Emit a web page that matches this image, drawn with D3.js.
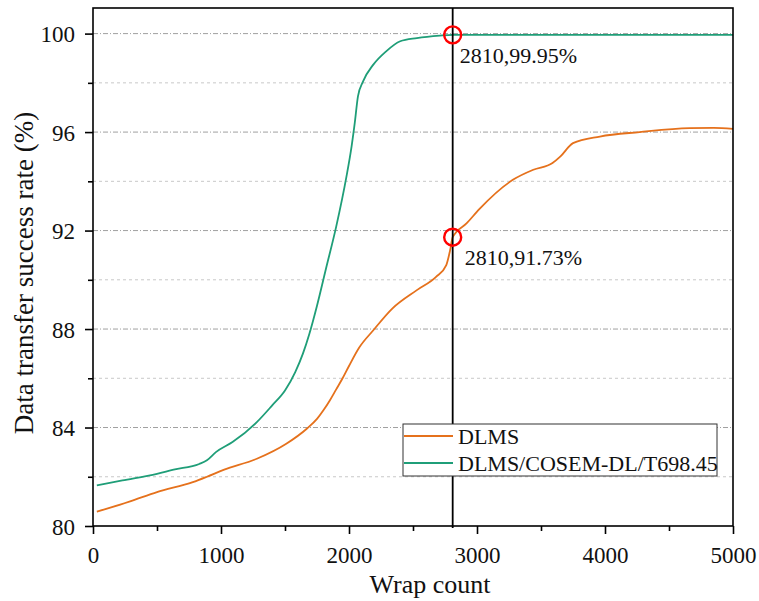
<!DOCTYPE html>
<html>
<head>
    <title>Data transfer success rate</title>
    <meta charset="UTF-8">
    <script src="https://cdn.jsdelivr.net/npm/d3@7/dist/d3.min.js"></script>
    <style>
        body { margin: 0; background: #fff; }
        text { font-family: "Liberation Serif", "Times New Roman", serif; }
    </style>
</head>
<body>
    <script>
        // series (wrap count, success rate %)
        var dlmsX = [30, 290, 500, 780, 890, 1020, 1280, 1510, 1670, 1750, 1800, 1850, 1900, 1950, 2000, 2080, 2190, 2340, 2530, 2680, 2760, 2790, 2810, 2920, 3020, 3280, 3440, 3590, 3650, 3750, 3960, 4270, 4660, 4850, 5000]
        var dlmsY = [80.58, 81.0, 81.38, 81.78, 82.0, 82.28, 82.73, 83.34, 83.95, 84.35, 84.7, 85.1, 85.55, 86.0, 86.5, 87.25, 87.95, 88.84, 89.58, 90.12, 90.6, 91.2, 91.73, 92.3, 92.88, 94.06, 94.47, 94.74, 95.0, 95.55, 95.82, 96.0, 96.16, 96.17, 96.13]

        var coseX = [30, 230, 500, 630, 830, 890, 960, 1090, 1280, 1400, 1500, 1580, 1640, 1690, 1750, 1820, 1900, 1980, 2020, 2045, 2070, 2110, 2190, 2290, 2400, 2530, 2710, 2810, 5000]
        var coseY = [81.65, 81.85, 82.12, 82.29, 82.52, 82.67, 83.0, 83.41, 84.22, 84.9, 85.5, 86.25, 87.0, 87.8, 88.95, 90.45, 92.16, 94.19, 95.41, 96.37, 97.45, 98.06, 98.74, 99.28, 99.69, 99.82, 99.92, 99.95, 99.95]

        var seriesNames = ['DLMS', 'DLMS/COSEM-DL/T698.45']
        var seriesColors = ['#e5711c', '#1f9e78']

        var xTicks = [0, 1000, 2000, 3000, 4000, 5000]
        var xMinor = [500, 1500, 2500, 3500, 4500]
        var yTicks = [80, 84, 88, 92, 96, 100]
        var yMinor = [82, 86, 90, 94, 98]

        var markX = 2810
        var markY = [99.95, 91.73]
        var markLabels = ['2810,99.95%', '2810,91.73%']

        var W = 759, H = 601
        var pLeft = 93, pRight = 733, pTop = 8, pBottom = 526

        var svg = d3.select('body')
            .append('svg')
            .attr('width', W)
            .attr('height', H)

        var x = d3.scaleLinear().domain([0, 5000]).range([pLeft, pRight])
        var y = d3.scaleLinear().domain([80, 101.04]).range([pBottom, pTop])

        // grid lines
        svg.selectAll('.gmaj')
            .data(yTicks.slice(1))
            .enter()
            .append('line')
            .attr('x1', pLeft).attr('x2', pRight)
            .attr('y1', function(d){ return y(d) })
            .attr('y2', function(d){ return y(d) })
            .attr('stroke', '#a0a0a0')
            .attr('stroke-width', 1)
            .attr('stroke-dasharray', '5,2,1,2')

        svg.selectAll('.gmin')
            .data(yMinor)
            .enter()
            .append('line')
            .attr('x1', pLeft).attr('x2', pRight)
            .attr('y1', function(d){ return y(d) })
            .attr('y2', function(d){ return y(d) })
            .attr('stroke', '#c8c8c8')
            .attr('stroke-width', 1)
            .attr('stroke-dasharray', '3,3')

        // curves
        var line = d3.line()
            .x(function(d){ return x(d[0]) })
            .y(function(d){ return y(d[1]) })
            .curve(d3.curveMonotoneX)

        var series = [d3.zip(dlmsX, dlmsY), d3.zip(coseX, coseY)]

        svg.selectAll('.series')
            .data(series)
            .enter()
            .append('path')
            .attr('d', line)
            .attr('fill', 'none')
            .attr('stroke', function(d, i){ return seriesColors[i] })
            .attr('stroke-width', 1.8)

        // vertical marker line
        svg.append('line')
            .attr('x1', x(markX)).attr('x2', x(markX))
            .attr('y1', pTop).attr('y2', pBottom + 2)
            .attr('stroke', '#000')
            .attr('stroke-width', 1.8)

        // axes
        var xAxis = svg.append('g')
            .attr('transform', 'translate(0,' + pBottom + ')')
            .call(d3.axisBottom(x).tickValues(xTicks).tickSize(8).tickSizeOuter(0).tickPadding(7).tickFormat(d3.format('d')))
        svg.append('g')
            .attr('transform', 'translate(0,' + pBottom + ')')
            .call(d3.axisBottom(x).tickValues(xMinor).tickSize(5).tickSizeOuter(0).tickFormat(''))

        var yAxis = svg.append('g')
            .attr('transform', 'translate(' + pLeft + ',0)')
            .call(d3.axisLeft(y).tickValues(yTicks).tickSize(8).tickSizeOuter(0).tickPadding(10).tickFormat(d3.format('d')))
        svg.append('g')
            .attr('transform', 'translate(' + pLeft + ',0)')
            .call(d3.axisLeft(y).tickValues(yMinor).tickSize(5).tickSizeOuter(0).tickFormat(''))

        svg.selectAll('.domain').remove()
        svg.selectAll('.tick line').attr('stroke', '#000').attr('stroke-width', 1.6)
        svg.selectAll('.tick text')
            .attr('fill', '#111')
            .style('font-family', '"Liberation Serif", serif')
            .style('font-size', '23px')
        xAxis.selectAll('.tick text').attr('dy', '0.95em')
        yAxis.selectAll('.tick text').attr('dy', '0.36em')

        // plot frame
        svg.append('rect')
            .attr('x', pLeft).attr('y', pTop)
            .attr('width', pRight - pLeft).attr('height', pBottom - pTop)
            .attr('fill', 'none')
            .attr('stroke', '#000')
            .attr('stroke-width', 1.6)

        // highlighted points
        svg.selectAll('.mark')
            .data(markY)
            .enter()
            .append('circle')
            .attr('cx', x(markX))
            .attr('cy', function(d){ return y(d) })
            .attr('r', 8.5)
            .attr('fill', 'none')
            .attr('stroke', '#ff0000')
            .attr('stroke-width', 2.4)

        svg.selectAll('.markLabel')
            .data(markY)
            .enter()
            .append('text')
            .attr('x', function(d, i){ return x(markX) + (i == 0 ? 7 : 12) })
            .attr('y', function(d){ return y(d) + 28 })
            .attr('font-size', '22px')
            .attr('fill', '#111')
            .text(function(d, i){ return markLabels[i] })

        // axis titles
        svg.append('text')
            .attr('x', 430)
            .attr('y', 593)
            .attr('text-anchor', 'middle')
            .attr('font-size', '26px')
            .attr('fill', '#111')
            .text('Wrap count')

        svg.append('text')
            .attr('transform', 'translate(33,273) rotate(-90)')
            .attr('text-anchor', 'middle')
            .attr('font-size', '27px')
            .attr('fill', '#111')
            .text('Data transfer success rate (%)')

        // legend
        var lg = svg.append('g').attr('transform', 'translate(403,424)')
        lg.append('rect')
            .attr('width', 314).attr('height', 52)
            .attr('fill', '#fff')
            .attr('stroke', '#333')
            .attr('stroke-width', 1)
        var items = lg.selectAll('.item')
            .data(seriesNames)
            .enter()
            .append('g')
            .attr('transform', function(d, i){ return 'translate(0,' + (12 + i * 27) + ')' })
        items.append('line')
            .attr('x1', 1).attr('x2', 50)
            .attr('stroke', function(d, i){ return seriesColors[i] })
            .attr('stroke-width', 1.8)
        items.append('text')
            .attr('x', 55)
            .attr('y', 7.5)
            .attr('font-size', '22px')
            .attr('fill', '#111')
            .text(function(d){ return d })
    </script>
</body>
</html>
